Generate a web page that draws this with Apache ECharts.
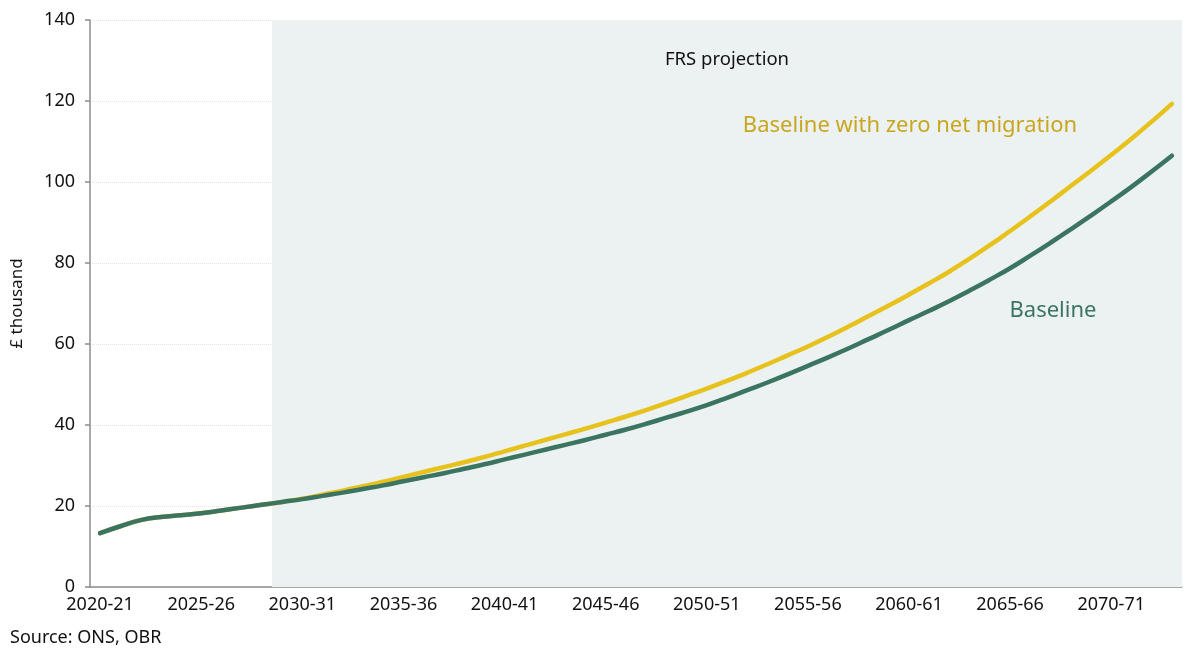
<!DOCTYPE html>
<html>
<head>
<meta charset="utf-8">
<script src="https://cdn.jsdelivr.net/npm/echarts@6/dist/echarts.min.js"></script>
<style>
  html, body { margin: 0; padding: 0; background: #fff; }
  #chart { width: 1200px; height: 655px; }
</style>
</head>
<body>
<div id="chart"></div>
<script>
// financial years 2020-21 .. 2073-74
const years = [];
for (let y = 2020; y <= 2073; y++) {
  years.push(y + '-' + String((y + 1) % 100).padStart(2, '0'));
}

// £ thousand
const baseline = [
  13.3, 15.0, 16.5, 17.3, 17.7, 18.2, 18.9, 19.6, 20.3, 21.0,
  21.7, 22.5, 23.3, 24.2, 25.1, 26.1, 27.1, 28.1, 29.2, 30.3,
  31.5, 32.7, 33.9, 35.1, 36.3, 37.6, 38.9, 40.3, 41.8, 43.3,
  44.9, 46.7, 48.6, 50.5, 52.5, 54.6, 56.7, 58.9, 61.2, 63.5,
  65.9, 68.2, 70.6, 73.2, 75.9, 78.7, 81.8, 85.0, 88.3, 91.7,
  95.2, 98.8, 102.6, 106.5
];

const zeroMigration = [
  13.3, 15.0, 16.5, 17.3, 17.7, 18.2, 18.9, 19.6, 20.3, 21.0,
  21.8, 22.8, 23.8, 24.9, 26.0, 27.2, 28.4, 29.6, 30.8, 32.1,
  33.5, 34.9, 36.3, 37.7, 39.1, 40.6, 42.1, 43.7, 45.4, 47.2,
  49.0, 50.9, 52.9, 55.0, 57.2, 59.4, 61.8, 64.3, 66.9, 69.5,
  72.2, 75.0, 77.9, 81.1, 84.4, 87.9, 91.5, 95.2, 99.0, 102.8,
  106.7, 110.7, 114.9, 119.3
];

// projection shading starts at the 2029-30 band
const projectionStart = 9;

const green = '#3b7562';
const yellow = '#e8c21c';
const axisGrey = '#8c8c8c';
const font = 'Noto Sans';

const chart = echarts.init(document.getElementById('chart'));

const option = {
  animation: false,
  textStyle: { fontFamily: font },
  grid: { left: 90, right: 18, top: 20, bottom: 68 },
  xAxis: [{
    type: 'category',
    data: years,
    boundaryGap: true,
    axisLine: { lineStyle: { color: axisGrey, width: 1.5 } },
    axisTick: { interval: 4, length: 6, lineStyle: { color: axisGrey, width: 1.5 } },
    axisLabel: { interval: 4, color: '#111', fontSize: 18, margin: 9, fontFamily: font }
  }, {
    type: 'value',
    min: 0,
    max: years.length,
    show: false
  }],
  yAxis: {
    type: 'value',
    min: 0,
    max: 140,
    interval: 20,
    name: '£ thousand',
    nameLocation: 'middle',
    nameRotate: 90,
    nameGap: 64,
    nameTextStyle: { color: '#111', fontSize: 17, fontFamily: font },
    axisLine: { show: true, lineStyle: { color: axisGrey, width: 1.5 } },
    axisTick: { show: true, length: 5, lineStyle: { color: axisGrey, width: 1.5 } },
    axisLabel: { color: '#111', fontSize: 18, margin: 15, fontFamily: font },
    splitLine: { lineStyle: { color: '#e2e2e2', type: 'dotted' } }
  },
  series: [{
    name: 'shade',
    type: 'line',
    xAxisIndex: 1,
    data: [],
    silent: true,
    markArea: {
      silent: true,
      itemStyle: { color: '#ecf2f2' },
      data: [[{ xAxis: projectionStart, yAxis: 0 }, { xAxis: years.length, yAxis: 140 }]]
    }
  }, {
    name: 'Baseline with zero net migration',
    type: 'line',
    data: zeroMigration,
    symbol: 'none',
    smooth: 0.5,
    lineStyle: { color: yellow, width: 4.5, cap: 'round' },
    z: 3
  }, {
    name: 'Baseline',
    type: 'line',
    data: baseline,
    symbol: 'none',
    smooth: 0.5,
    lineStyle: { color: green, width: 4.5, cap: 'round' },
    z: 4
  }],
  graphic: [{
    type: 'text',
    z: 100,
    x: 727, y: 60,
    style: { text: 'FRS projection', fill: '#111', fontSize: 18.5, fontFamily: font, align: 'center', verticalAlign: 'middle' }
  }, {
    type: 'text',
    z: 100,
    x: 910, y: 126,
    style: { text: 'Baseline with zero net migration', fill: '#c9a520', fontSize: 22, fontFamily: font, align: 'center', verticalAlign: 'middle' }
  }, {
    type: 'text',
    z: 100,
    x: 1053, y: 311,
    style: { text: 'Baseline', fill: green, fontSize: 22, fontFamily: font, align: 'center', verticalAlign: 'middle' }
  }, {
    type: 'text',
    z: 100,
    x: 10, y: 638,
    style: { text: 'Source: ONS, OBR', fill: '#111', fontSize: 18, fontFamily: font, align: 'left', verticalAlign: 'middle' }
  }]
};

chart.setOption(option);
</script>
</body>
</html>
